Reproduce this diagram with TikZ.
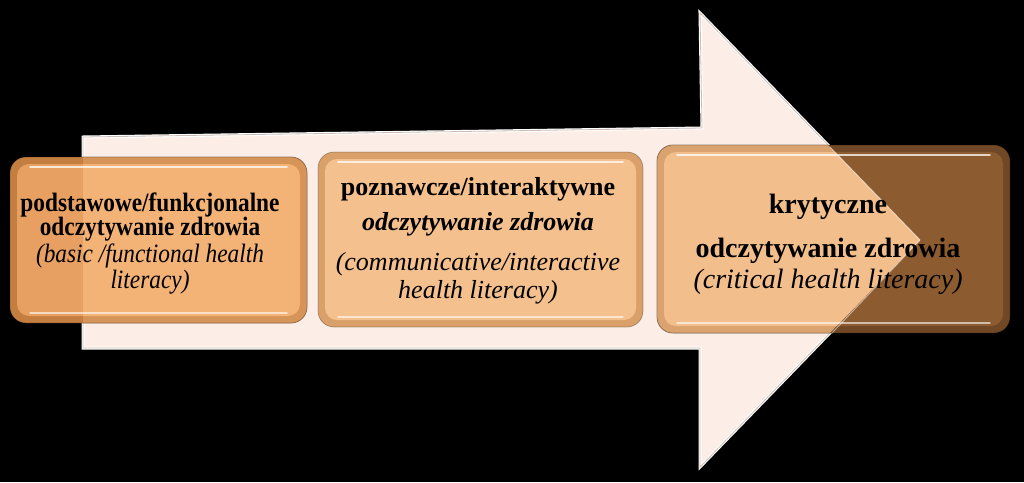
\documentclass[tikz,border=0pt]{standalone}
\usepackage{fontspec}
\setmainfont{Liberation Serif}
\definecolor{arrowfill}{RGB}{252,238,230}
\definecolor{arrowedge}{RGB}{205,188,180}
\definecolor{rimAin}{RGB}{214,148,88}
\definecolor{mainAin}{RGB}{243,178,118}
\definecolor{rimAout}{RGB}{196,126,64}
\definecolor{mainAout}{RGB}{232,160,98}
\definecolor{rimB}{RGB}{218,160,106}
\definecolor{mainB}{RGB}{244,192,142}
\definecolor{rimCin}{RGB}{218,162,110}
\definecolor{mainCin}{RGB}{242,190,140}
\definecolor{rimCout}{RGB}{112,72,38}
\definecolor{mainCout}{RGB}{140,92,48}
\newcommand\mybevel[6]{%
  \fill[#5, rounded corners=16pt] (#1,#2) rectangle (#3,#4);
  \fill[#6, rounded corners=12pt] (#1+7,#2+7) rectangle (#3-7,#4-7);
  \draw[white, opacity=.75, line width=1.6pt, line cap=round] (#1+20,#2+10) -- (#3-20,#2+10);
  \draw[white, opacity=.6, line width=1.4pt, line cap=round] (#1+20,#4-10) -- (#3-20,#4-10);
  \draw[black, opacity=.25, line width=0.8pt, rounded corners=16pt] (#1,#2) rectangle (#3,#4);
}
\newcommand\arrowpath{(83,137) -- (702,128) -- (700,13) -- (920,240) -- (700,467) -- (700,348) -- (83,348) -- cycle}
\newcommand\narrowA[1]{\scalebox{.88}[1]{#1}}
\tikzset{
  fa/.style={font=\fontsize{26.5}{28}\selectfont, anchor=base, inner sep=0pt},
  fb/.style={font=\fontsize{26}{28}\selectfont, anchor=base, inner sep=0pt},
  fc/.style={font=\fontsize{28}{30}\selectfont, anchor=base, inner sep=0pt},
}
\begin{document}
\begin{tikzpicture}[x=1pt,y=-1pt]
\fill[black] (0,0) rectangle (1024,482);
\useasboundingbox (0,0) rectangle (1024,482);
% big arrow
\fill[arrowfill] \arrowpath;
\draw[white, line width=3pt, line join=miter] \arrowpath;
\draw[arrowedge, line width=0.8pt, line join=miter] \arrowpath;
% boxes, outside the arrow
\mybevel{10}{157}{307}{323}{rimAout}{mainAout}
\mybevel{318}{152}{643}{327}{rimB}{mainB}
\mybevel{657}{145}{1010}{333}{rimCout}{mainCout}
% boxes, where the arrow shows through
\begin{scope}
  \clip \arrowpath;
  \mybevel{10}{157}{307}{323}{rimAin}{mainAin}
  \mybevel{657}{145}{1010}{333}{rimCin}{mainCin}
\end{scope}
\draw[white, opacity=.5, line width=1pt] (830,147) -- (920,240) -- (832,333);
% texts
\node[fa] (a1) at (150,211) {\narrowA{\textbf{podstawowe/funkcjonalne}}};
\node[fa] (a2) at (150,235) {\narrowA{\textbf{odczytywanie zdrowia}}};
\node[fa] (a3) at (150,262) {\narrowA{\textit{(basic /functional health}}};
\node[fa] (a4) at (150,288) {\narrowA{\textit{literacy)}}};
\node[fb] (b1) at (478,195) {\textbf{poznawcze/interaktywne}};
\node[fb] (b2) at (478,230) {\textbf{\textit{odczytywanie zdrowia}}};
\node[fb] (b3) at (478,270) {\textit{(communicative/interactive}};
\node[fb] (b4) at (478,298) {\textit{health literacy)}};
\node[fc] (c1) at (828,213) {\textbf{krytyczne}};
\node[fc] (c2) at (828,257) {\textbf{odczytywanie zdrowia}};
\node[fc] (c3) at (828,288) {\textit{(critical health literacy)}};
\end{tikzpicture}
\end{document}
